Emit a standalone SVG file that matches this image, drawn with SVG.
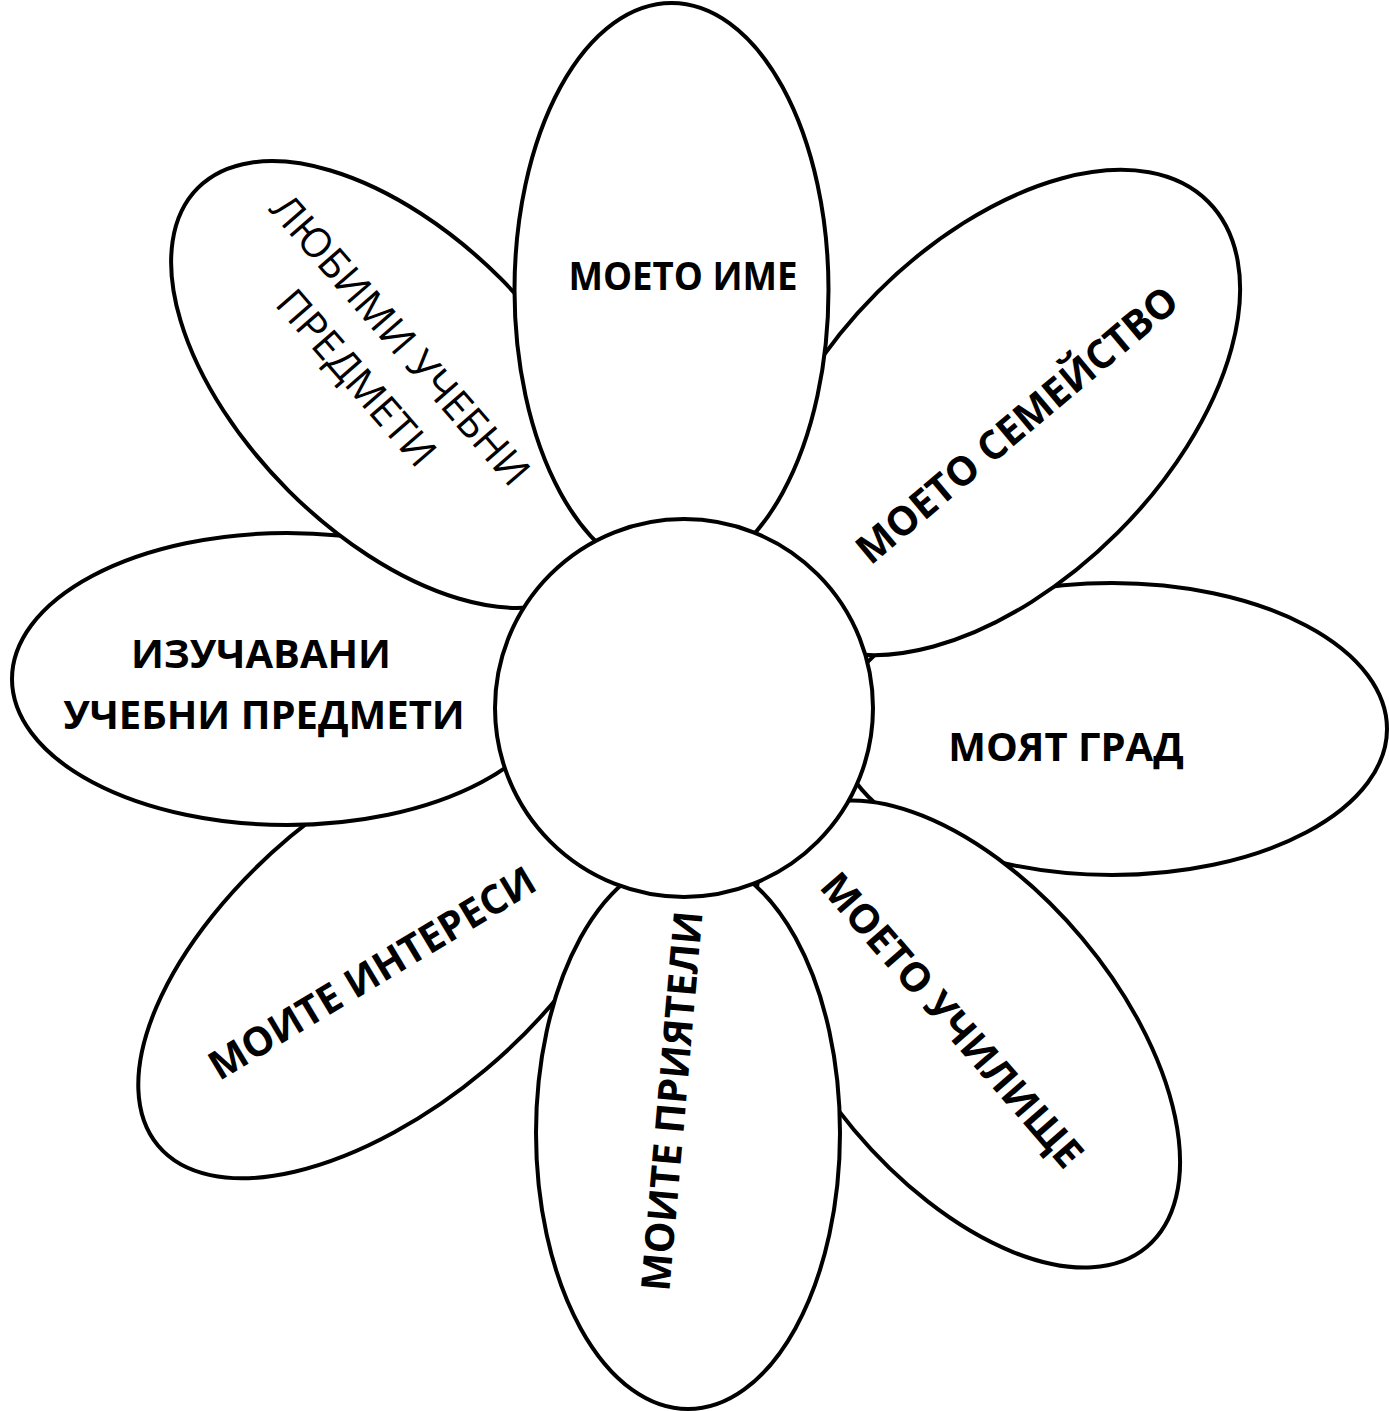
<svg xmlns="http://www.w3.org/2000/svg" width="1389" height="1411" viewBox="0 0 1389 1411">
<style>
.petal{fill:#fff;stroke:#000;stroke-width:4}
.lbl{font-family:"Open Sans","Liberation Sans",sans-serif;font-weight:700;font-size:40px;fill:#000;text-anchor:middle}
.reg{font-weight:400;font-size:41px}
</style>
<rect width="1389" height="1411" fill="#fff"/>
<g id="petal-right">
<ellipse class="petal" cx="1112" cy="729" rx="275" ry="146"/>
<text class="lbl" x="1066" y="761">МОЯТ ГРАД</text>
</g>
<g id="petal-lower-right">
<ellipse class="petal" cx="0" cy="0" rx="278" ry="149" transform="translate(968 1034) rotate(50)"/>
<text class="lbl" transform="translate(952 1020) rotate(49)" y="14">МОЕТО УЧИЛИЩЕ</text>
</g>
<g id="petal-lower-left">
<ellipse class="petal" cx="0" cy="0" rx="300" ry="152" transform="translate(388 953) rotate(-40)"/>
<text class="lbl" transform="translate(372 973) rotate(-31)" y="14">МОИТЕ ИНТЕРЕСИ</text>
</g>
<g id="petal-left">
<ellipse class="petal" cx="287" cy="679" rx="275" ry="146"/>
<text class="lbl" x="261" y="668">ИЗУЧАВАНИ</text>
<text class="lbl" x="264" y="729">УЧЕБНИ ПРЕДМЕТИ</text>
</g>
<g id="petal-bottom">
<ellipse class="petal" cx="688" cy="1133" rx="152" ry="276"/>
<text class="lbl" transform="translate(672 1101) rotate(-85)" y="14">МОИТЕ ПРИЯТЕЛИ</text>
</g>
<g id="petal-upper-left">
<ellipse class="petal" cx="0" cy="0" rx="278" ry="150" transform="translate(394.5 384.5) rotate(45)"/>
<g transform="translate(378 359) rotate(49)">
<text class="lbl reg" y="-15">ЛЮБИМИ УЧЕБНИ</text>
<text class="lbl reg" y="43">ПРЕДМЕТИ</text>
</g>
</g>
<g id="petal-upper-right">
<ellipse class="petal" cx="0" cy="0" rx="298" ry="170" transform="translate(997.5 412.5) rotate(-45)"/>
<text class="lbl" transform="translate(1017 425) rotate(-40)" y="14">МОЕТО СЕМЕЙСТВО</text>
</g>
<g id="petal-top">
<ellipse class="petal" cx="671.5" cy="290" rx="157" ry="287"/>
<text class="lbl" x="683" y="290" textLength="229" lengthAdjust="spacingAndGlyphs">МОЕТО ИМЕ</text>
</g>
<g id="center">
<circle class="petal" cx="684" cy="708" r="189"/>
</g>
</svg>
